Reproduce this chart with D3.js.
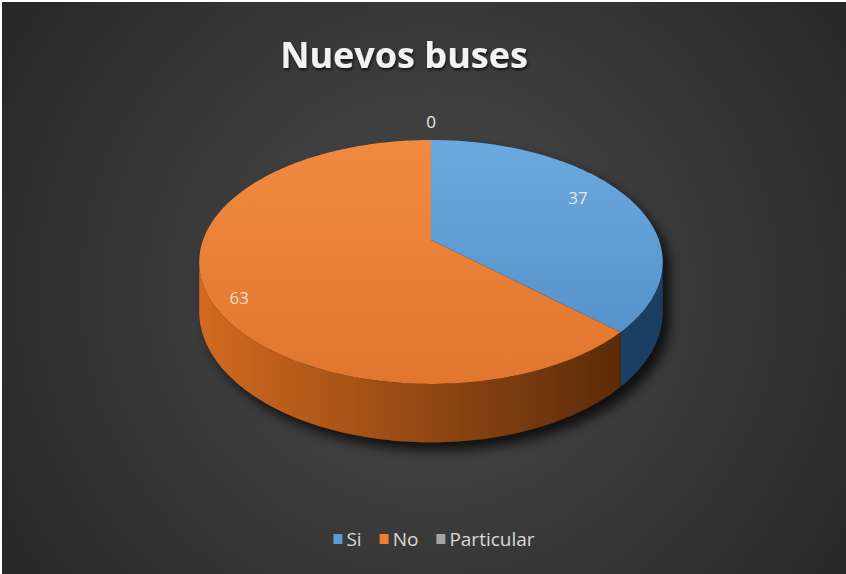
<!DOCTYPE html>
<html>
<head>
<meta charset="utf-8">
<script src="https://cdn.jsdelivr.net/npm/d3@7"></script>
<style>
  body { margin: 0; background: #fff; }
  svg { display: block; }
</style>
</head>
<body>
<div id="chart"></div>
<script>
var svgWidth = 846;
var svgHeight = 574;

// chart data
var categories = ["Si", "No", "Particular"];
var values = [37, 63, 0];
var chartTitle = "Nuevos buses";

var topColors = ["#5b9bd5", "#ed7d31", "#a5a5a5"];
var topLight = ["#6aa8e0", "#f08a42", "#b8b8b8"];
var sideLight = ["#2a5f90", "#d2691f", "#7a7a7a"];
var sideDark = ["#1b3f63", "#5a2a08", "#4a4a4a"];

// pie geometry (perspective tilted disk)
var cx = 431, cy = 240;
var rx = 228, ry = 118;
var persp = 0.18;
var depth = 48;

var svg = d3.select("#chart")
    .append("svg")
    .attr("width", svgWidth)
    .attr("height", svgHeight);

var defs = svg.append("defs");

var bg = defs.append("radialGradient")
    .attr("id", "bg")
    .attr("gradientUnits", "userSpaceOnUse")
    .attr("cx", 430).attr("cy", 290).attr("r", 560);
bg.append("stop").attr("offset", "0%").attr("stop-color", "#4b4b4b");
bg.append("stop").attr("offset", "100%").attr("stop-color", "#242424");

var shadow = defs.append("filter").attr("id", "pieShadow")
    .attr("x", "-20%").attr("y", "-20%").attr("width", "140%").attr("height", "140%");
shadow.append("feGaussianBlur").attr("stdDeviation", 6);

var textShadow = defs.append("filter").attr("id", "titleShadow")
    .attr("x", "-10%").attr("y", "-30%").attr("width", "120%").attr("height", "160%");
textShadow.append("feDropShadow")
    .attr("dx", 1).attr("dy", 2).attr("stdDeviation", 1.5)
    .attr("flood-color", "#000").attr("flood-opacity", 0.7);

categories.forEach(function(c, i) {
    var tg = defs.append("linearGradient").attr("id", "top" + i)
        .attr("x1", 0).attr("y1", 0).attr("x2", 0).attr("y2", 1);
    tg.append("stop").attr("offset", "0%").attr("stop-color", topLight[i]);
    tg.append("stop").attr("offset", "100%").attr("stop-color", d3.color(topColors[i]).darker(0.15));

    var sg = defs.append("linearGradient").attr("id", "side" + i)
        .attr("gradientUnits", "userSpaceOnUse")
        .attr("x1", cx - rx).attr("y1", 0).attr("x2", cx + rx * 0.85).attr("y2", 0);
    sg.append("stop").attr("offset", "0%").attr("stop-color", sideLight[i]);
    sg.append("stop").attr("offset", "100%").attr("stop-color", sideDark[i]);
});

svg.append("rect")
    .attr("x", 2).attr("y", 2)
    .attr("width", svgWidth - 2).attr("height", svgHeight - 2)
    .attr("fill", "url(#bg)");

// project a point on the disk (angle from 12 o'clock clockwise, radius fraction, drop)
function proj(a, r, h) {
    var u = r * Math.sin(a);
    var v = -r * Math.cos(a);
    var k = 1 / (1 - persp * v);
    return [cx + rx * u * k, cy + ry * v * k + (h || 0) * k];
}

function arcPoints(a0, a1, r, h) {
    var n = Math.max(2, Math.ceil(Math.abs(a1 - a0) / 0.02));
    return d3.range(n + 1).map(function(j) {
        return proj(a0 + (a1 - a0) * j / n, r, h);
    });
}

var line = d3.line().curve(d3.curveLinearClosed);

var pie = d3.pie().sort(null).value(function(d) { return d; });
var arcs = pie(values);

// the wall is visible between the widest points of the ellipse
var edgeA = Math.acos(-persp);          // right-most visible angle
var edgeB = 2 * Math.PI - edgeA;        // left-most visible angle

// drop shadow
var outline = arcPoints(-Math.PI / 2 + 0.0001, edgeA, 1, 0)
    .concat(arcPoints(edgeA, edgeB, 1, depth))
    .concat(arcPoints(edgeB, 1.5 * Math.PI, 1, 0));
svg.append("path")
    .attr("d", line(outline))
    .attr("transform", "translate(7,8)")
    .attr("fill", "#000")
    .attr("opacity", 0.75)
    .attr("filter", "url(#pieShadow)");

var pieGroup = svg.append("g");

// side walls
arcs.forEach(function(d, i) {
    var a0 = Math.max(d.startAngle, edgeA);
    var a1 = Math.min(d.endAngle, edgeB);
    if (a1 <= a0) return;
    var pts = arcPoints(a0, a1, 1, 0).concat(arcPoints(a1, a0, 1, depth));
    pieGroup.append("path")
        .attr("d", line(pts))
        .attr("fill", "url(#side" + i + ")");
});

// top faces
arcs.forEach(function(d, i) {
    if (d.endAngle - d.startAngle <= 0) return;
    var pts = [proj(0, 0, 0)].concat(arcPoints(d.startAngle, d.endAngle, 1, 0));
    pieGroup.append("path")
        .attr("d", line(pts))
        .attr("fill", "url(#top" + i + ")");
});

// data labels
var labelRadius = [0.74, 0.86, 1.22];
var labelDrop = [-9, 14, 0];
arcs.forEach(function(d, i) {
    var mid = (d.startAngle + d.endAngle) / 2;
    var p = proj(mid, labelRadius[i], labelDrop[i]);
    svg.append("text")
        .attr("x", p[0])
        .attr("y", p[1])
        .attr("dy", "0.35em")
        .attr("text-anchor", "middle")
        .style("font-family", "'Open Sans', sans-serif")
        .style("font-size", "17px")
        .style("fill", i === 1 ? "#f6dcc8" : "#e8e8e8")
        .text(values[i]);
});

// title
svg.append("text")
    .attr("x", 404)
    .attr("y", 68)
    .attr("text-anchor", "middle")
    .attr("filter", "url(#titleShadow)")
    .style("font-family", "'Open Sans', sans-serif")
    .style("font-weight", "bold")
    .style("font-size", "36px")
    .style("fill", "#f2f2f2")
    .text(chartTitle);

// legend
var legend = svg.append("g");
var lx = 0;
categories.forEach(function(c, i) {
    var item = legend.append("g").attr("transform", "translate(" + lx + ",0)");
    item.append("rect")
        .attr("x", 0).attr("y", -5)
        .attr("width", 9).attr("height", 10)
        .attr("fill", topColors[i]);
    var t = item.append("text")
        .attr("x", 13)
        .attr("y", 0)
        .attr("dy", "0.35em")
        .style("font-family", "'Open Sans', sans-serif")
        .style("font-size", "19px")
        .style("fill", "#d9d9d9")
        .text(c);
    lx += 13 + t.node().getComputedTextLength() + (i < categories.length - 1 ? 18 : 0);
});
legend.attr("transform", "translate(" + (434 - lx / 2) + ", 539)");
</script>
</body>
</html>
